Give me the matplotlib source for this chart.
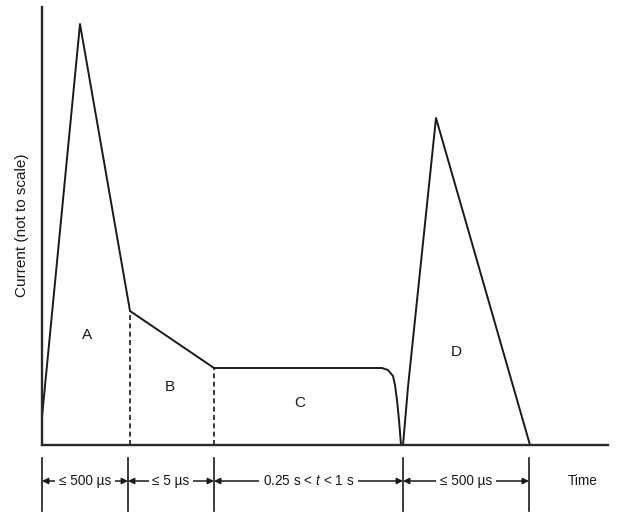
import matplotlib
matplotlib.use('Agg')
import matplotlib.pyplot as plt

plt.rcParams['font.family'] = ['Liberation Sans', 'DejaVu Sans']
plt.rcParams['mathtext.fontset'] = 'custom'
plt.rcParams['mathtext.it'] = 'Liberation Sans:italic'
plt.rcParams['mathtext.rm'] = 'Liberation Sans'

# waveform (arbitrary units)
wave_x = [0, 38, 88, 172, 340, 346, 351, 353, 355, 357, 359, 361, 363, 366, 394, 488]
wave_y = [28, 421, 134, 77, 77, 75, 69, 60, 45, 25, 0, 0, 23, 58, 327, 0]

# dashed region dividers
div_x = [88, 172]
div_top = [134, 77]

# region letters
region_names = ['A', 'B', 'C', 'D']
region_x = [45, 128, 258, 414]
region_y = [110, 58, 42, 93]

# duration bars under the time axis
dim_bounds = [0, 86, 172, 361, 487]
dim_labels = ['≤ 500 µs', '≤ 5 µs', '0.25 s < $\\it{t}$ < 1 s', '≤ 500 µs']

ink = '#1a1a1a'

fig = plt.figure(figsize=(6.18, 5.19), dpi=100)
ax = fig.add_axes([42 / 618, 74 / 519, 566 / 618, 438 / 519])
ax.set_xlim(0, 566)
ax.set_ylim(0, 438)
ax.set_xticks([])
ax.set_yticks([])
for s in ['top', 'right']:
    ax.spines[s].set_visible(False)
for s in ['left', 'bottom']:
    ax.spines[s].set_linewidth(1.7)
    ax.spines[s].set_color('#2a2a2a')

ax.plot(wave_x, wave_y, color=ink, lw=1.4, solid_joinstyle='round')

for x, top in zip(div_x, div_top):
    ax.plot([x, x], [0, top], color=ink, lw=1.2, ls=(0, (3, 2)))

for name, x, y in zip(region_names, region_x, region_y):
    ax.text(x, y, name, ha='center', va='center', fontsize=11, color=ink)

# dimension line
ydim = -36
for x in dim_bounds:
    ax.plot([x, x], [-13, -66], color=ink, lw=1.2, clip_on=False)

for x0, x1, lab in zip(dim_bounds[:-1], dim_bounds[1:], dim_labels):
    ax.annotate('', xy=(x0, ydim), xytext=(x1, ydim),
                arrowprops=dict(arrowstyle='<|-|>', color=ink, lw=1.1,
                                mutation_scale=9, shrinkA=0, shrinkB=0),
                annotation_clip=False)
    ax.text((x0 + x1) / 2, ydim, lab, ha='center', va='center', fontsize=9.8,
            color=ink, clip_on=False,
            bbox=dict(boxstyle='square,pad=0.25', fc='white', ec='none'))

ax.text(541, ydim, 'Time', ha='center', va='center', fontsize=9.8, color=ink,
        clip_on=False)

fig.text(22 / 618, 1 - 225 / 519, 'Current (not to scale)', rotation=90,
         ha='center', va='center', fontsize=11, color=ink)

fig.savefig('out.png', dpi=100, facecolor='white')
